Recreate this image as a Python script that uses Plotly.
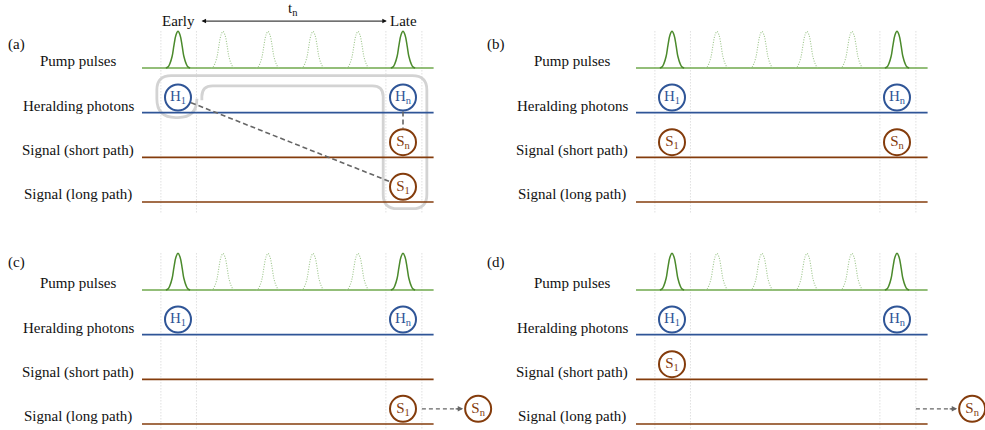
import plotly.graph_objects as go

# ------------------------------------------------------------------ data
slots = [0, 1, 2, 3, 4, 5]                 # pump pulse time slots
active_slots = [0, 5]                      # pulses that created photon pairs
dormant_slots = [1, 2, 3, 4]               # other pulses (dotted)
slot_bounds = [-0.38, 0.41, 4.62, 5.42]    # gray dotted time-bin boundaries
rows = [0, 1, 2, 3]
row_labels = ["Pump pulses", "Heralding photons", "Signal (short path)", "Signal (long path)"]
panel_letters = ["(a)", "(b)", "(c)", "(d)"]

# pump pulse profile (slot offset, relative height)
pulse_offsets = [-0.27, -0.22, -0.18, -0.13, -0.09, -0.045, 0.0, 0.045, 0.09, 0.13, 0.18, 0.22, 0.27]
pulse_profile = [0.0, 0.03, 0.12, 0.32, 0.62, 0.9, 1.0, 0.9, 0.62, 0.32, 0.12, 0.03, 0.0]

# photons: (letter, subscript, slot, row)
photons = [
    [("H", "1", 0, 1), ("H", "n", 5, 1), ("S", "n", 5, 2), ("S", "1", 5, 3)],
    [("H", "1", 0, 1), ("H", "n", 5, 1), ("S", "1", 0, 2), ("S", "n", 5, 2)],
    [("H", "1", 0, 1), ("H", "n", 5, 1), ("S", "1", 5, 3), ("S", "n", 6.67, 3)],
    [("H", "1", 0, 1), ("H", "n", 5, 1), ("S", "1", 0, 2), ("S", "n", 6.67, 3)],
]
# dashed correlation links in panel (a): (slot, row) -> (slot, row)
links_a = [((0, 1), (5, 3)), ((5, 1), (5, 2))]
# dashed delay arrows in panels (c) and (d): (start slot, end photon slot, row)
delay_arrows = {2: (5.42, 6.67, 3), 3: (5.42, 6.67, 3)}

# ------------------------------------------------------------------ layout constants
W, H = 985, 430
PX_SLOT = 45.0
PX_ROW = 44.67
origin_x = [178, 672]      # pixel of slot 0 for left / right column
origin_y = [68, 290]       # pixel of pump baseline for top / bottom row
LINE_START, LINE_END = -0.8, 5.68
PULSE_H = 0.82
PHOTON_LIFT = 0.34
R_PHOT = 14.0              # px radius used to trim connectors

GREEN_BASE = "#6fa84c"
GREEN_PULSE = "#4b8a2c"
GREEN_LIGHT = "#9cc58a"
BLUE = "#2f5597"
BROWN = "#843c0c"
GRID = "#cfcfcf"
DASH = "#666666"
FONT = "Liberation Serif, Times New Roman, serif"
row_colors = [GREEN_BASE, BLUE, BROWN, BROWN]

fig = go.Figure()

xa_names = ["x", "x2"]
ya_names = ["y", "y2"]


def axes_for(p):
    return xa_names[p % 2], ya_names[p // 2]


def to_px(p, sx, ry):
    return origin_x[p % 2] + sx * PX_SLOT, origin_y[p // 2] + ry * PX_ROW


def from_px(p, px, py):
    return (px - origin_x[p % 2]) / PX_SLOT, (py - origin_y[p // 2]) / PX_ROW


annotations = []
shapes = []

for p in range(4):
    xr, yr = axes_for(p)
    # time-bin boundaries
    for b in slot_bounds:
        fig.add_trace(go.Scatter(x=[b, b], y=[-0.82, 3.25], mode="lines", xaxis=xr, yaxis=yr,
                                 line=dict(color=GRID, width=1, dash="1px,2px"), hoverinfo="skip"))
    # row base lines
    for r, c in zip(rows, row_colors):
        fig.add_trace(go.Scatter(x=[LINE_START, LINE_END], y=[r, r], mode="lines", xaxis=xr, yaxis=yr,
                                 line=dict(color=c, width=1.6), hoverinfo="skip"))
    # pump pulses
    for s in slots:
        active = s in active_slots
        fig.add_trace(go.Scatter(
            x=[s + o for o in pulse_offsets], y=[-PULSE_H * h for h in pulse_profile],
            mode="lines", xaxis=xr, yaxis=yr, hoverinfo="skip",
            line=dict(color=GREEN_PULSE if active else GREEN_LIGHT, width=1.5 if active else 1.1,
                      dash="solid" if active else "1px,1.5px", shape="spline")))
    # row labels
    for r, lab in zip(rows, row_labels):
        annotations.append(dict(x=-2.22, y=r - 0.16, xref=xr, yref=yr, text=lab, showarrow=False,
                                xanchor="center", yanchor="middle", font=dict(size=15, family=FONT, color="#111")))

    # panel (a) extras: links and gray grouping outline
    if p == 0:
        for (s0, r0), (s1, r1) in links_a:
            x0, y0 = to_px(p, s0, r0 - PHOTON_LIFT)
            x1, y1 = to_px(p, s1, r1 - PHOTON_LIFT)
            d = ((x1 - x0) ** 2 + (y1 - y0) ** 2) ** 0.5
            ux, uy = (x1 - x0) / d, (y1 - y0) / d
            a = from_px(p, x0 + ux * R_PHOT, y0 + uy * R_PHOT)
            b = from_px(p, x1 - ux * R_PHOT, y1 - uy * R_PHOT)
            fig.add_trace(go.Scatter(x=[a[0], b[0]], y=[a[1], b[1]], mode="lines", xaxis=xr, yaxis=yr,
                                     line=dict(color=DASH, width=1.6, dash="5px,3px"), hoverinfo="skip"))
        # grouping outline (in slot / row units)
        L, T, B1, R1 = -0.47, 0.17, 1.11, 0.42
        IL, IT, IR = 0.53, 0.40, 4.56
        OR, OB, E = 5.53, 3.15, 0.72
        rb, ro, ri = 0.42, 0.32, 0.24
        path = (f"M {R1},{E} L {R1},{B1 - rb} Q {R1},{B1} {R1 - rb},{B1} "
                f"L {L + rb},{B1} Q {L},{B1} {L},{B1 - rb} L {L},{T + ro} Q {L},{T} {L + ro},{T} "
                f"L {OR - ro},{T} Q {OR},{T} {OR},{T + ro} L {OR},{OB - ro} Q {OR},{OB} {OR - ro},{OB} "
                f"L {IR + ro},{OB} Q {IR},{OB} {IR},{OB - ro} L {IR},{IT + ri} Q {IR},{IT} {IR - ri},{IT} "
                f"L {IL + ri},{IT} Q {IL},{IT} {IL},{IT + ri} L {IL},{E}")
        shapes.append(dict(type="path", path=path, xref=xr, yref=yr,
                           line=dict(color="#d3d3d3", width=2.8), layer="below"))
        # Early / Late arrow
        annotations.append(dict(x=0, y=-1.05, xref=xr, yref=yr, text="Early", showarrow=False,
                                font=dict(size=15, family=FONT, color="#111")))
        annotations.append(dict(x=5, y=-1.05, xref=xr, yref=yr, text="Late", showarrow=False,
                                font=dict(size=15, family=FONT, color="#111")))
        annotations.append(dict(x=2.55, y=-1.32, xref=xr, yref=yr, text="t<sub>n</sub>", showarrow=False,
                                font=dict(size=15, family=FONT, color="#111")))
        annotations.append(dict(x=4.64, y=-1.05, ax=0.49, ay=-1.05, xref=xr, yref=yr, axref=xr, ayref=yr,
                                text="", showarrow=True, arrowhead=2, arrowside="end+start",
                                arrowsize=0.9, arrowwidth=1, arrowcolor="#111", standoff=0, startstandoff=0))

    # delay arrows
    if p in delay_arrows:
        s_start, s_phot, r = delay_arrows[p]
        yv = r - PHOTON_LIFT
        tip = s_phot - (R_PHOT + 1) / PX_SLOT
        fig.add_trace(go.Scatter(x=[s_start, tip - 0.08], y=[yv, yv], mode="lines", xaxis=xr, yaxis=yr,
                                 line=dict(color=DASH, width=1.2, dash="4px,3px"), hoverinfo="skip"))
        annotations.append(dict(x=tip, y=yv, ax=tip - 0.2, ay=yv, xref=xr, yref=yr, axref=xr, ayref=yr,
                                text="", showarrow=True, arrowhead=2, arrowsize=0.9, arrowwidth=1.2,
                                arrowcolor=DASH, standoff=0))

    # photons
    for letter, sub, s, r in photons[p]:
        col = BLUE if letter == "H" else BROWN
        fig.add_trace(go.Scatter(
            x=[s], y=[r - PHOTON_LIFT], mode="markers+text", xaxis=xr, yaxis=yr, cliponaxis=False,
            marker=dict(size=26, color="white", line=dict(color=col, width=2)),
            text=[f"{letter}<sub>{sub}</sub>"], textposition="middle center",
            textfont=dict(size=15, family=FONT, color=col), hoverinfo="skip"))

# panel letters
letter_pos = [(16, 45), (496, 45), (16, 262), (496, 262)]
for lab, (px, py) in zip(panel_letters, letter_pos):
    annotations.append(dict(x=px / W, y=1 - py / H, xref="paper", yref="paper", text=lab, showarrow=False,
                            xanchor="center", yanchor="middle", font=dict(size=15, family=FONT, color="#111")))

ax_common = dict(visible=False, showgrid=False, zeroline=False, fixedrange=True, domain=[0, 1])
fig.update_layout(
    width=W, height=H, margin=dict(l=0, r=0, t=0, b=0),
    paper_bgcolor="white", plot_bgcolor="rgba(0,0,0,0)", showlegend=False,
    xaxis=dict(range=[-origin_x[0] / PX_SLOT, (W - origin_x[0]) / PX_SLOT], **ax_common),
    xaxis2=dict(range=[-origin_x[1] / PX_SLOT, (W - origin_x[1]) / PX_SLOT], overlaying="x", **ax_common),
    yaxis=dict(range=[(H - origin_y[0]) / PX_ROW, -origin_y[0] / PX_ROW], **ax_common),
    yaxis2=dict(range=[(H - origin_y[1]) / PX_ROW, -origin_y[1] / PX_ROW], overlaying="y", **ax_common),
    annotations=annotations, shapes=shapes,
)

fig.write_html("out.html")
